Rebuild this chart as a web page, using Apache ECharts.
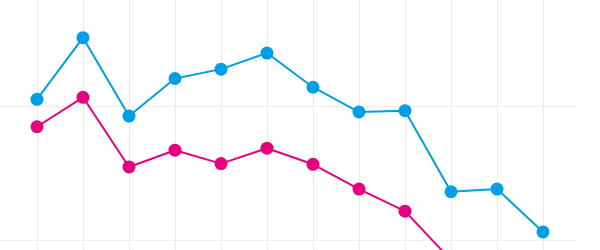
<!DOCTYPE html>
<html>
<head>
<meta charset="utf-8">
<script src="https://cdn.jsdelivr.net/npm/echarts@6/dist/echarts.min.js"></script>
<style>
html,body{margin:0;padding:0;background:#fff;width:600px;height:250px;overflow:hidden;position:relative;}
#chart{position:absolute;left:-9px;top:0;width:609px;height:374px;}
</style>
</head>
<body>
<div id="chart"></div>
<script>
var categories = ['1','2','3','4','5','6','7','8','9','10','11','12'];
var blueValues = [61.0, 70.2, 58.5, 64.1, 65.5, 67.9, 62.8, 59.1, 59.3, 47.2, 47.6, 41.2];
var pinkValues = [56.9, 61.3, 50.9, 53.4, 51.4, 53.7, 51.3, 47.6, 44.3, 37.0];
var yTicks = [20, 40, 60];

function pairs(vals) {
  return vals.map(function (v, i) { return [i, v]; });
}

var chart = echarts.init(document.getElementById('chart'), null, {renderer: 'canvas'});
chart.setOption({
  animation: false,
  backgroundColor: '#ffffff',
  grid: {left: 0, right: 24, top: 0, bottom: 0, containLabel: false},
  xAxis: {
    type: 'value',
    min: -1,
    max: 11.717,
    interval: 1,
    axisLine: {show: false},
    axisTick: {show: false},
    axisLabel: {show: false, formatter: function (v) { return categories[v] || ''; }},
    splitLine: {show: true, showMinLine: false, showMaxLine: false, lineStyle: {color: '#ebebeb', width: 1}}
  },
  yAxis: {
    type: 'value',
    min: yTicks[0],
    max: 75.82,
    interval: yTicks[1] - yTicks[0],
    axisLine: {show: false},
    axisTick: {show: false},
    axisLabel: {show: false},
    splitLine: {show: true, showMinLine: false, showMaxLine: false, lineStyle: {color: '#eeeeee', width: 1}}
  },
  series: [
    {
      type: 'line',
      data: pairs(blueValues),
      symbol: 'circle',
      symbolSize: 13,
      showAllSymbol: true,
      lineStyle: {color: '#009fe3', width: 2},
      itemStyle: {color: '#009fe3', borderWidth: 0},
      z: 3
    },
    {
      type: 'line',
      data: pairs(pinkValues),
      symbol: 'circle',
      symbolSize: 13,
      showAllSymbol: true,
      lineStyle: {color: '#e5007d', width: 2},
      itemStyle: {color: '#e5007d', borderWidth: 0},
      z: 2
    }
  ]
});
</script>
</body>
</html>
